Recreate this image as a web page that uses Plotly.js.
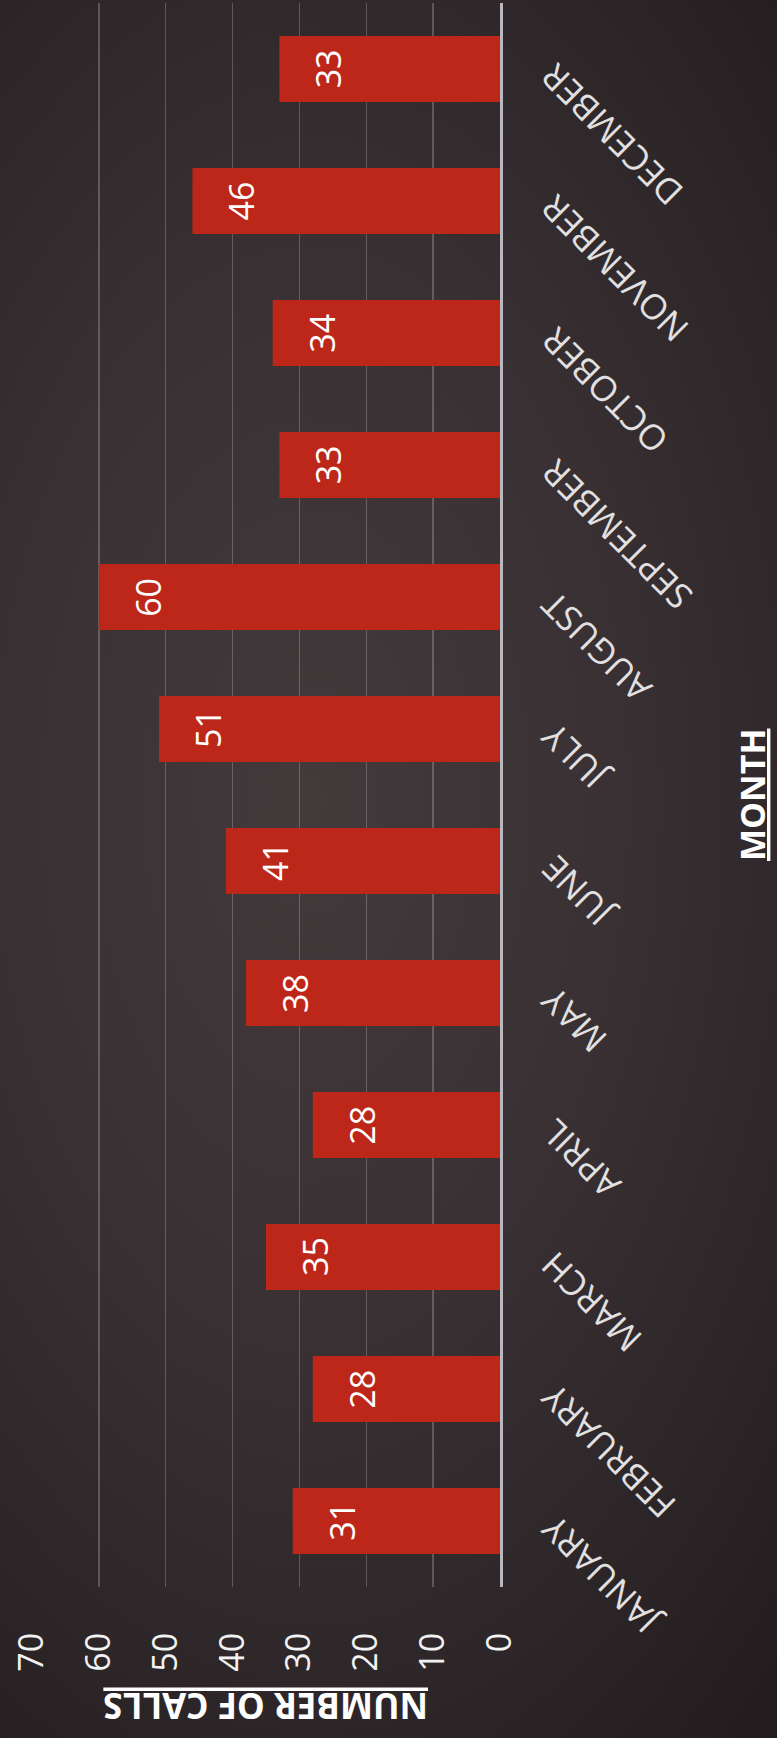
<!DOCTYPE html>
<html>
<head>
<meta charset="utf-8">
<script src="https://cdn.plot.ly/plotly-3.0.1.min.js"></script>
<style>
  html, body { margin: 0; padding: 0; background: #231d1f; }
  #chart {
    width: 777px; height: 1738px;
    background: radial-gradient(ellipse 90% 70% at 40% 46%, #433a3c 0%, #383032 45%, #2c2527 78%, #221c1e 100%);
  }
</style>
</head>
<body>
<div id="chart"></div>
<script>
// ---- data ----
const months = ['JANUARY','FEBRUARY','MARCH','APRIL','MAY','JUNE','JULY','AUGUST','SEPTEMBER','OCTOBER','NOVEMBER','DECEMBER'];
const calls = [31, 28, 35, 28, 38, 41, 51, 60, 33, 34, 46, 33];
const valueTicks = [0, 10, 20, 30, 40, 50, 60, 70];
const valueTickLabels = ['0', '10', '20', '30', '40', '50', '60', '70'];
const valueTitle = 'NUMBER OF CALLS';
const categoryTitle = 'MONTH';

const FONT = '"Open Sans", "DejaVu Sans", sans-serif';

const trace = {
  type: 'bar',
  orientation: 'h',
  x: calls,
  y: months,
  marker: { color: '#bd2719', line: { width: 0 } },
  hoverinfo: 'skip'
};

const annotations = [];
// month labels (rotated, reading toward upper-left)
months.forEach(m => {
  annotations.push({
    xref: 'paper', yref: 'y', x: 1, y: m,
    text: m, showarrow: false, textangle: -135,
    xanchor: 'left', yanchor: 'top', xshift: 28, yshift: 18,
    font: { family: FONT, size: 35, color: '#e2e0e1' }
  });
});
// value labels inside bars
months.forEach((m, i) => {
  annotations.push({
    xref: 'x', yref: 'y', x: calls[i], y: m,
    text: String(calls[i]), showarrow: false, textangle: -90,
    xanchor: 'center', yanchor: 'middle', xshift: 49,
    font: { family: FONT, size: 34, color: '#ffffff' }
  });
});
// axis titles
annotations.push({
  xref: 'paper', yref: 'paper', x: 0.5, y: 0,
  text: '<b><u>' + valueTitle + '</u></b>', showarrow: false, textangle: 180,
  xanchor: 'center', yanchor: 'middle', yshift: -120,
  font: { family: FONT, size: 35, color: '#ffffff' }
});
annotations.push({
  xref: 'paper', yref: 'paper', x: 1, y: 0.5,
  text: '<b><u>' + categoryTitle + '</u></b>', showarrow: false, textangle: -90,
  xanchor: 'center', yanchor: 'middle', xshift: 252,
  font: { family: FONT, size: 34, color: '#ffffff' }
});

const layout = {
  width: 777, height: 1738,
  margin: { l: 32, r: 277, t: 3, b: 151, pad: 0 },
  paper_bgcolor: 'rgba(0,0,0,0)',
  plot_bgcolor: 'rgba(0,0,0,0)',
  bargap: 0.5,
  showlegend: false,
  xaxis: {
    range: [70, 0],
    tickvals: valueTicks,
    ticktext: valueTickLabels,
    tickangle: -90,
    ticks: '',
    ticklabelstandoff: 38,
    showgrid: true,
    gridcolor: 'rgba(255,255,255,0.22)',
    gridwidth: 1.5,
    zeroline: false,
    showline: false,
    tickfont: { family: FONT, size: 34, color: '#f2f2f2' },
    fixedrange: true
  },
  yaxis: {
    type: 'category',
    categoryorder: 'array',
    categoryarray: months,
    range: [-0.5, 11.5],
    autorange: false,
    side: 'right',
    showticklabels: false,
    ticks: '',
    showgrid: false,
    zeroline: false,
    showline: true,
    linecolor: '#b9b7bf',
    linewidth: 2.5,
    fixedrange: true
  },
  annotations: annotations,
  font: { family: FONT, color: '#f2f2f2' }
};

Plotly.newPlot('chart', [trace], layout, { staticPlot: true, displayModeBar: false });
</script>
</body>
</html>
